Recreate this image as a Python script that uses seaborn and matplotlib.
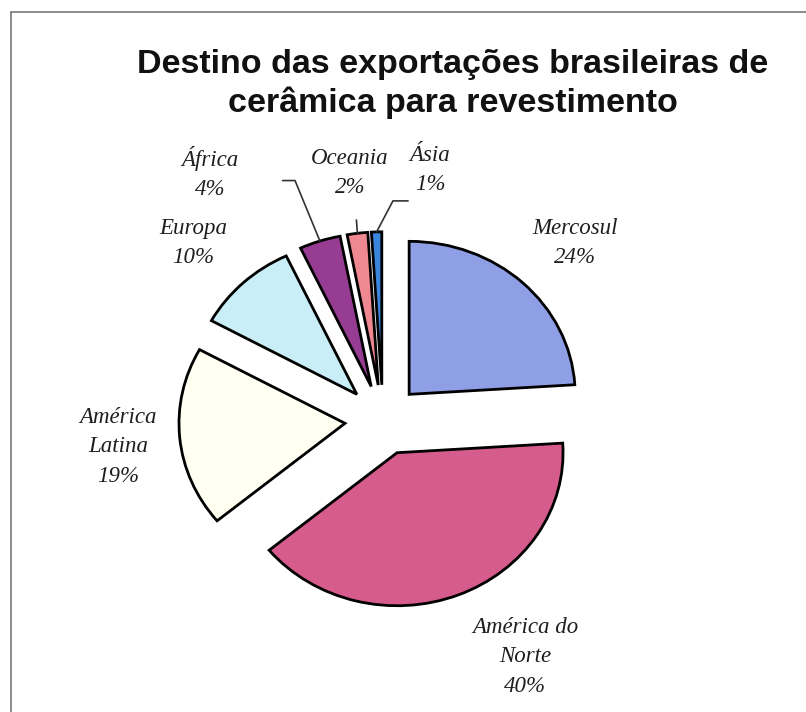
import numpy as np
import matplotlib
matplotlib.use("Agg")
import matplotlib.pyplot as plt
import seaborn as sns
from matplotlib.lines import Line2D

# Data
regions = ["Mercosul", "América do\nNorte", "América\nLatina", "Europa", "África", "Oceania", "Ásia"]
shares = [24, 40, 19, 10, 4, 2, 1]
colors = ["#8E9FE6", "#D65C8D", "#FFFFF2", "#C9EEF8", "#973C93", "#EF8890", "#3A86DE"]

sns.set_theme(style="white")
plt.rcParams["font.family"] = ["Liberation Sans", "DejaVu Sans"]

fig = plt.figure(figsize=(8.06, 7.12), dpi=100)
ax = fig.add_axes([0, 0, 1, 1])

wedges, _ = ax.pie(shares, startangle=90, counterclock=False, colors=colors,
                   explode=[0.23] * len(shares),
                   wedgeprops=dict(edgecolor="black", linewidth=2))

# slightly flattened pie, as in the scanned original
sx, sy = 166, 153
cx, cy = 383, 420
ax.set_aspect("auto")
ax.set_xlim(-cx / sx, (806 - cx) / sx)
ax.set_ylim(-(712 - cy) / sy, cy / sy)
ax.axis("off")

# label placement (data units of the pie axes)
label_pos = {
    "Mercosul": (1.157, 1.157),
    "América do\nNorte": (0.855, -1.549),
    "América\nLatina": (-1.596, -0.176),
    "Europa": (-1.145, 1.157),
    "África": (-1.042, 1.614),
    "Oceania": (-0.199, 1.614),
    "Ásia": (0.283, 1.634),
}
for name, share in zip(regions, shares):
    x, y = label_pos[name]
    ax.text(x, y, f"{name}\n{share}%", ha="center", va="center",
            fontsize=16.5, style="italic", family=["Liberation Serif", "DejaVu Serif"],
            color="#1e1e1e", linespacing=1.55)

# leader lines for the small slices
elbows = {
    "África": [(-0.605, 1.565), (-0.53, 1.565)],
    "Oceania": [(-0.16, 1.307)],
    "Ásia": [(0.151, 1.432), (0.06, 1.432)],
}
for w, name in zip(wedges, regions):
    if name not in elbows:
        continue
    mid = np.deg2rad((w.theta1 + w.theta2) / 2)
    cxw, cyw = w.center
    tip = (cxw + w.r * np.cos(mid), cyw + w.r * np.sin(mid))
    pts = elbows[name] + [tip]
    xs, ys = zip(*pts)
    ax.plot(xs, ys, color="#333333", lw=1.2)

fig.text(0.562, 0.882, "Destino das exportações brasileiras de\ncerâmica para revestimento",
         ha="center", va="center", fontsize=24.5, fontweight="bold", color="#111111",
         linespacing=1.22)

# frame lines of the scanned chart area
fig.add_artist(Line2D([11 / 806, 11 / 806], [0, 1 - 12 / 712], color="#777777", lw=1.2))
fig.add_artist(Line2D([11 / 806, 1], [1 - 12 / 712, 1 - 12 / 712], color="#777777", lw=1.2))

fig.savefig("out.png", dpi=100)
